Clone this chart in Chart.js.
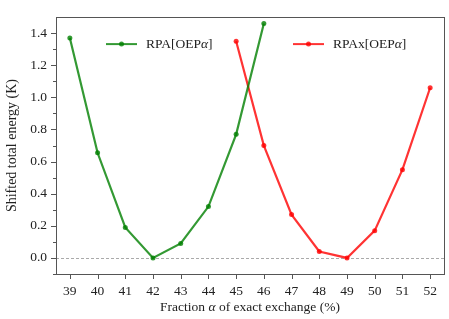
<!DOCTYPE html>
<html>
<head>
<meta charset="utf-8">
<script src="https://cdn.jsdelivr.net/npm/chart.js@4"></script>
<style>
  html, body { margin: 0; padding: 0; background: #fff; }
  #wrap { width: 449px; height: 319px; }
</style>
</head>
<body>
<div id="wrap"><canvas id="myChart" width="449" height="319"></canvas></div>
<script>
// values
var rpaAlpha = [39, 40, 41, 42, 43, 44, 45, 46];
var rpaEnergy = [1.37, 0.655, 0.19, 0.0, 0.09, 0.32, 0.77, 1.46];
var rpaxAlpha = [45, 46, 47, 48, 49, 50, 51, 52];
var rpaxEnergy = [1.35, 0.70, 0.27, 0.04, 0.0, 0.17, 0.55, 1.06];
var xTicks = [39, 40, 41, 42, 43, 44, 45, 46, 47, 48, 49, 50, 51, 52];
var yTicks = [0.0, 0.2, 0.4, 0.6, 0.8, 1.0, 1.2, 1.4];
var yMinorTicks = [-0.1, 0.1, 0.3, 0.5, 0.7, 0.9, 1.1, 1.3];

var FONT = "'Liberation Serif', 'DejaVu Serif', serif";
var green = "rgba(0,128,0,0.8)";
var red = "rgba(255,0,0,0.8)";
var axisColor = "#555";

function toPoints(xs, ys) {
  return xs.map(function (x, i) { return { x: x, y: ys[i] }; });
}

// draw a run of text pieces, some italic
function drawRich(ctx, parts, x, y, size, align) {
  var widths = parts.map(function (p) {
    ctx.font = (p.it ? "italic " : "") + size + "px " + FONT;
    return ctx.measureText(p.t).width;
  });
  var total = widths.reduce(function (a, b) { return a + b; }, 0);
  var cx = align === "center" ? x - total / 2 : x;
  ctx.textBaseline = "middle";
  ctx.textAlign = "left";
  parts.forEach(function (p, i) {
    ctx.font = (p.it ? "italic " : "") + size + "px " + FONT;
    ctx.fillText(p.t, cx, y);
    cx += widths[i];
  });
}

var decor = {
  id: "decor",
  beforeDatasetsDraw: function (chart) {
    var ctx = chart.ctx, a = chart.chartArea, ys = chart.scales.y;
    // dashed zero line
    var y0 = ys.getPixelForValue(0);
    ctx.save();
    ctx.strokeStyle = "#aaa";
    ctx.lineWidth = 1;
    ctx.setLineDash([3, 2]);
    ctx.beginPath();
    ctx.moveTo(a.left, Math.round(y0) + 0.5);
    ctx.lineTo(a.right, Math.round(y0) + 0.5);
    ctx.stroke();
    ctx.restore();
  },
  afterDraw: function (chart) {
    var ctx = chart.ctx, a = chart.chartArea;
    var xs = chart.scales.x, ys = chart.scales.y;
    ctx.save();
    // frame
    ctx.strokeStyle = axisColor;
    ctx.lineWidth = 1;
    ctx.strokeRect(Math.round(a.left) + 0.5, Math.round(a.top) + 0.5,
      Math.round(a.right - a.left), Math.round(a.bottom - a.top));
    // tick marks
    ctx.beginPath();
    xTicks.forEach(function (v) {
      var px = Math.round(xs.getPixelForValue(v)) + 0.5;
      ctx.moveTo(px, a.bottom);
      ctx.lineTo(px, a.bottom + 5);
    });
    yTicks.forEach(function (v) {
      var py = Math.round(ys.getPixelForValue(v)) + 0.5;
      ctx.moveTo(a.left, py);
      ctx.lineTo(a.left - 5, py);
    });
    yMinorTicks.forEach(function (v) {
      var py = Math.round(ys.getPixelForValue(v)) + 0.5;
      ctx.moveTo(a.left, py);
      ctx.lineTo(a.left - 3, py);
    });
    ctx.stroke();

    // legend inside the plot
    ctx.fillStyle = "#222";
    chart.data.datasets.forEach(function (ds, i) {
      var lx = a.left + (i === 0 ? 50 : 237);
      var ly = a.top + 27;
      ctx.strokeStyle = ds.borderColor;
      ctx.lineWidth = 2;
      ctx.beginPath();
      ctx.moveTo(lx, ly);
      ctx.lineTo(lx + 31, ly);
      ctx.stroke();
      ctx.fillStyle = ds.borderColor;
      ctx.beginPath();
      ctx.arc(lx + 15.5, ly, 2.5, 0, Math.PI * 2);
      ctx.fill();
      ctx.fillStyle = "#222";
      drawRich(ctx, ds.legendParts, lx + 40, ly, 13.5, "left");
    });

    // x axis title with italic alpha
    drawRich(ctx, [
      { t: "Fraction " }, { t: "α", it: true }, { t: " of exact exchange (%)" }
    ], (a.left + a.right) / 2, 307, 13.5, "center");
    ctx.restore();
  }
};

new Chart("myChart", {
  type: "line",
  data: {
    datasets: [{
      label: "RPA[OEPα]",
      legendParts: [{ t: "RPA[OEP" }, { t: "α", it: true }, { t: "]" }],
      data: toPoints(rpaAlpha, rpaEnergy),
      borderColor: green,
      backgroundColor: green,
      borderWidth: 2.2,
      pointRadius: 2.5,
      pointHoverRadius: 2.5,
      pointBorderWidth: 0
    }, {
      label: "RPAx[OEPα]",
      legendParts: [{ t: "RPAx[OEP" }, { t: "α", it: true }, { t: "]" }],
      data: toPoints(rpaxAlpha, rpaxEnergy),
      borderColor: red,
      backgroundColor: red,
      borderWidth: 2.2,
      pointRadius: 2.5,
      pointHoverRadius: 2.5,
      pointBorderWidth: 0
    }]
  },
  plugins: [decor],
  options: {
    responsive: false,
    animation: false,
    layout: { padding: { top: 4, right: 5, left: 0, bottom: 0 } },
    plugins: {
      legend: { display: false },
      tooltip: { enabled: false }
    },
    scales: {
      x: {
        type: "linear",
        min: 38.5,
        max: 52.5,
        afterBuildTicks: function (s) {
          s.ticks = xTicks.map(function (v) { return { value: v }; });
        },
        afterFit: function (s) { s.height = 45; },
        grid: { display: false, drawTicks: false },
        border: { display: false },
        ticks: {
          padding: 9,
          color: "#222",
          font: { family: FONT, size: 13.5 },
          maxRotation: 0,
          callback: function (v) { return String(v); }
        }
      },
      y: {
        min: -0.1,
        max: 1.5,
        afterBuildTicks: function (s) {
          s.ticks = yTicks.map(function (v) { return { value: v }; });
        },
        afterFit: function (s) { s.width = 56; },
        grid: { display: false, drawTicks: false },
        border: { display: false },
        ticks: {
          padding: 9,
          color: "#222",
          font: { family: FONT, size: 13.5 },
          callback: function (v) { return Number(v).toFixed(1); }
        },
        title: {
          display: true,
          text: "Shifted total energy (K)",
          color: "#222",
          font: { family: FONT, size: 14 },
          padding: { top: 4, bottom: 0 }
        }
      }
    }
  }
});
</script>
</body>
</html>
